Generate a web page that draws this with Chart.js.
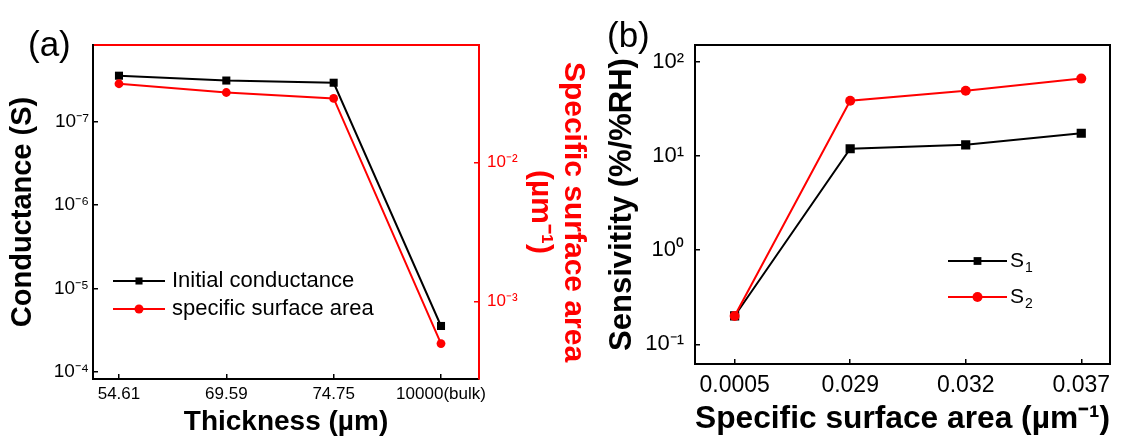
<!DOCTYPE html>
<html>
<head>
<meta charset="utf-8">
<script src="https://cdn.jsdelivr.net/npm/chart.js@4.4.1/dist/chart.umd.min.js"></script>
<style>
  html, body { margin: 0; padding: 0; background: #fff; width: 1124px; height: 439px; overflow: hidden; }
  #wrap { position: relative; width: 1124px; height: 439px; font-family: 'Liberation Sans', Arial, sans-serif; }
  canvas { position: absolute; top: 0; }
  #ca { left: 0; }
  #cb { left: 595px; }
  .tag { position: absolute; font-size: 35px; line-height: 1; color: #000; }
</style>
</head>
<body>
<div id="wrap">
  <canvas id="ca" width="595" height="439"></canvas>
  <canvas id="cb" width="529" height="439"></canvas>
  <div class="tag" style="left:28px; top:26px;">(a)</div>
  <div class="tag" style="left:607px; top:17px;">(b)</div>
</div>
<script>
// Panel (a): conductance and specific surface area against film thickness
const thicknessLabels = ['54.61', '69.59', '74.75', '10000(bulk)'];
const initialConductance = [2.8e-8, 3.2e-8, 3.4e-8, 2.8e-5];
const surfaceAreaA = [0.037, 0.032, 0.029, 0.0005];
const conductanceTicks = [1e-7, 1e-6, 1e-5, 1e-4];
const conductanceTickLabels = ['10⁻⁷', '10⁻⁶', '10⁻⁵', '10⁻⁴'];
const areaTicks = [1e-3, 1e-2];
const areaTickLabels = ['10⁻³', '10⁻²'];

// Panel (b): humidity sensitivity against specific surface area
const areaLabels = ['0.0005', '0.029', '0.032', '0.037'];
const sensitivityS1 = [0.2, 11.9, 13.1, 17.4];
const sensitivityS2 = [0.2, 38.5, 49.2, 66.1];
const sensitivityTicks = [0.1, 1, 10, 100];
const sensitivityTickLabels = ['10⁻¹', '10⁰', '10¹', '10²'];

const FONT = "'Liberation Sans', Arial, sans-serif";
const BLACK = '#000000';
const RED = '#ff0000';

const pts = vals => vals.map((v, i) => ({ x: i, y: v }));
const fixW = w => s => { s.width = w; };
const fixH = h => s => { s.height = h; };
const setTicks = vals => s => { s.ticks = vals.map(v => ({ value: v })); };
const font = (size, bold) => ({ size, family: FONT, weight: bold ? 'bold' : 'normal' });

// Legend drawn as a short line with the marker in its middle
const lineLegend = {
  id: 'lineLegend',
  afterDatasetsDraw(chart, args, o) {
    const ctx = chart.ctx;
    ctx.save();
    chart.data.datasets.forEach((ds, i) => {
      const y = o.y + i * o.rowGap;
      ctx.strokeStyle = ds.borderColor;
      ctx.lineWidth = ds.borderWidth;
      ctx.beginPath();
      ctx.moveTo(o.x, y);
      ctx.lineTo(o.x + o.lineLen, y);
      ctx.stroke();
      ctx.fillStyle = ds.pointBackgroundColor;
      Chart.helpers.drawPoint(ctx, { pointStyle: ds.pointStyle, radius: o.markerRadius[i], rotation: 0, borderWidth: 0 },
        o.x + o.lineLen / 2, y);
      const parts = ds.label.split('_');
      const tx = o.x + o.lineLen + o.gap;
      ctx.fillStyle = BLACK;
      ctx.textAlign = 'left';
      ctx.textBaseline = 'middle';
      ctx.font = `${o.fontSize}px ${FONT}`;
      ctx.fillText(parts[0], tx, y);
      if (parts[1]) {
        const w = ctx.measureText(parts[0]).width;
        ctx.font = `${o.subSize}px ${FONT}`;
        ctx.fillText(parts[1], tx + w + 1, y + o.subShift);
      }
    });
    ctx.restore();
  }
};

const tickMarks = { display: true, drawOnChartArea: false, drawTicks: true, tickLength: -5, color: BLACK, lineWidth: 1.5 };
const plainFrame = { display: true, drawOnChartArea: false, drawTicks: false };

new Chart(document.getElementById('ca'), {
  type: 'line',
  data: {
    datasets: [
      {
        label: 'Initial conductance', data: pts(initialConductance), yAxisID: 'y',
        borderColor: BLACK, backgroundColor: BLACK, pointBackgroundColor: BLACK, pointBorderColor: BLACK,
        pointStyle: 'rect', pointRadius: 5.7, pointBorderWidth: 0, borderWidth: 2, order: 1
      },
      {
        label: 'specific surface area', data: pts(surfaceAreaA), yAxisID: 'y2',
        borderColor: RED, backgroundColor: RED, pointBackgroundColor: RED, pointBorderColor: RED,
        pointStyle: 'circle', pointRadius: 4.4, pointBorderWidth: 0, borderWidth: 2, order: 0
      }
    ]
  },
  options: {
    responsive: false, animation: false, events: [],
    layout: { padding: 0 },
    plugins: {
      legend: { display: false }, tooltip: { enabled: false },
      lineLegend: { x: 113, y: 281, rowGap: 28, lineLen: 52, gap: 7, fontSize: 22, subSize: 14, subShift: 6, markerRadius: [5, 4.5] }
    },
    scales: {
      x: {
        type: 'linear', position: 'bottom', min: -0.242, max: 3.354,
        afterBuildTicks: setTicks([0, 1, 2, 3]), afterFit: fixH(60),
        ticks: { callback: v => thicknessLabels[v], font: font(17), color: BLACK, padding: 10, maxRotation: 0, autoSkip: false },
        grid: tickMarks, border: { color: BLACK, width: 2 },
        title: { display: true, text: 'Thickness (µm)', font: font(28, true), color: BLACK, padding: { top: 0, bottom: 0 } }
      },
      xTop: {
        type: 'linear', position: 'top', min: -0.242, max: 3.354, afterFit: fixH(45),
        ticks: { display: false }, grid: plainFrame, border: { color: RED, width: 2 }
      },
      y: {
        type: 'logarithmic', position: 'left', reverse: true, min: 1.2e-8, max: 1.21e-4,
        afterBuildTicks: setTicks(conductanceTicks), afterFit: fixW(93),
        ticks: { callback: (v, i) => conductanceTickLabels[i], font: font(19), color: BLACK, padding: 9, autoSkip: false },
        grid: tickMarks, border: { color: BLACK, width: 2 },
        title: { display: true, text: 'Conductance (S)', font: font(29, true), color: BLACK, padding: { top: 6, bottom: 0 } }
      },
      y2: {
        type: 'logarithmic', position: 'right', min: 2.78e-4, max: 0.0703,
        afterBuildTicks: setTicks(areaTicks), afterFit: fixW(116),
        ticks: { callback: (v, i) => areaTickLabels[i], font: font(17), color: RED, padding: 13, autoSkip: false },
        grid: Object.assign({}, tickMarks, { color: RED }), border: { color: RED, width: 2 },
        title: {
          display: true, text: ['Specific surface area', '(µm⁻¹)'],
          font: Object.assign(font(30, true), { lineHeight: 1.1 }), color: RED, padding: { top: 5, bottom: 0 }
        }
      }
    }
  },
  plugins: [lineLegend]
});

new Chart(document.getElementById('cb'), {
  type: 'line',
  data: {
    datasets: [
      {
        label: 'S_1', data: pts(sensitivityS1),
        borderColor: BLACK, backgroundColor: BLACK, pointBackgroundColor: BLACK, pointBorderColor: BLACK,
        pointStyle: 'rect', pointRadius: 6.5, pointBorderWidth: 0, borderWidth: 2, order: 1
      },
      {
        label: 'S_2', data: pts(sensitivityS2),
        borderColor: RED, backgroundColor: RED, pointBackgroundColor: RED, pointBorderColor: RED,
        pointStyle: 'circle', pointRadius: 5, pointBorderWidth: 0, borderWidth: 2, order: 0
      }
    ]
  },
  options: {
    responsive: false, animation: false, events: [],
    layout: { padding: 0 },
    plugins: {
      legend: { display: false }, tooltip: { enabled: false },
      lineLegend: { x: 353, y: 261, rowGap: 36, lineLen: 59, gap: 3, fontSize: 21, subSize: 14, subShift: 7, markerRadius: [5.5, 5] }
    },
    scales: {
      x: {
        type: 'linear', position: 'bottom', min: -0.343, max: 3.25,
        afterBuildTicks: setTicks([0, 1, 2, 3]), afterFit: fixH(75),
        ticks: { callback: v => areaLabels[v], font: font(23), color: BLACK, padding: 13, maxRotation: 0, autoSkip: false },
        grid: tickMarks, border: { color: BLACK, width: 2 },
        title: { display: true, text: 'Specific surface area (µm⁻¹)', font: font(32, true), color: BLACK, padding: { top: 0, bottom: 1 } }
      },
      xTop: {
        type: 'linear', position: 'top', min: -0.343, max: 3.25, afterFit: fixH(45),
        ticks: { display: false }, grid: plainFrame, border: { color: BLACK, width: 2 }
      },
      y: {
        type: 'logarithmic', position: 'left', min: 0.0618, max: 150.3,
        afterBuildTicks: setTicks(sensitivityTicks), afterFit: fixW(100),
        ticks: { callback: (v, i) => sensitivityTickLabels[i], font: font(22), color: BLACK, padding: 16, autoSkip: false },
        grid: tickMarks, border: { color: BLACK, width: 2 },
        title: { display: true, text: 'Sensivitity (%/%RH)', font: font(31, true), color: BLACK, padding: { top: 9, bottom: 0 } }
      },
      yRight: {
        type: 'linear', position: 'right', min: 0, max: 1, afterFit: fixW(10),
        ticks: { display: false }, grid: plainFrame, border: { color: BLACK, width: 2 }
      }
    }
  },
  plugins: [lineLegend]
});
</script>
</body>
</html>
